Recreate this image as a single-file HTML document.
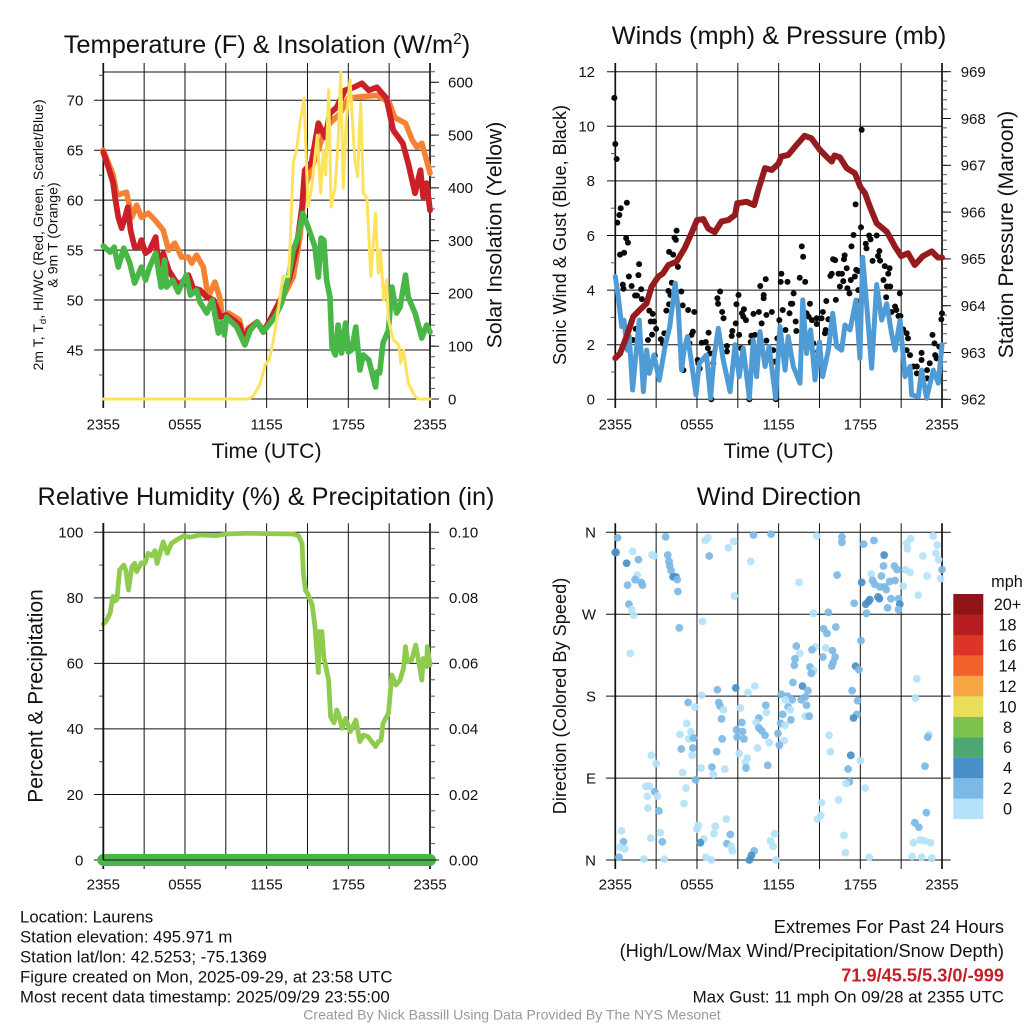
<!DOCTYPE html>
<html lang="en">
<head>
<meta charset="utf-8">
<title>Laurens Station Meteogram</title>
<style>
html,body{margin:0;padding:0;background:#fff;}
svg{display:block;font-family:"Liberation Sans",sans-serif;fill:#111;}
</style>
</head>
<body>
<svg id="chart" xmlns="http://www.w3.org/2000/svg" width="1024" height="1024" viewBox="0 0 1024 1024">
<rect x="0" y="0" width="1024" height="1024" fill="#fff"/>
<g id="p1"></g>
<g id="p2"></g>
<g id="p3"></g>
<g id="p4"></g>
<g id="legend"></g>

<text x="267" y="53" font-size="25.4" text-anchor="middle">Temperature (F) &amp; Insolation (W/m<tspan font-size="15.5" dy="-9">2</tspan><tspan dy="9">)</tspan></text>
<text x="779" y="44" font-size="25.3" text-anchor="middle">Winds (mph) &amp; Pressure (mb)</text>
<text x="266" y="505" font-size="25.3" text-anchor="middle">Relative Humidity (%) &amp; Precipitation (in)</text>
<text x="779" y="505" font-size="25.3" text-anchor="middle">Wind Direction</text>

<text x="266.6" y="458" font-size="21.2" text-anchor="middle">Time (UTC)</text>
<text x="778.6" y="458" font-size="21.2" text-anchor="middle">Time (UTC)</text>

<text transform="translate(43,235) rotate(-90)" font-size="14.1" text-anchor="middle">2m T, T<tspan font-size="9.5" dy="3">d</tspan><tspan dy="-3">, HI/WC (Red, Green, Scarlet/Blue)</tspan></text>
<text transform="translate(57.5,235) rotate(-90)" font-size="14.1" text-anchor="middle">&amp; 9m T (Orange)</text>
<text transform="translate(501.7,235) rotate(-90)" font-size="21.2" text-anchor="middle">Solar Insolation (Yellow)</text>
<text transform="translate(566,235) rotate(-90)" font-size="18.15" text-anchor="middle">Sonic Wind &amp; Gust (Blue, Black)</text>
<text transform="translate(1013,234.5) rotate(-90)" font-size="21.1" text-anchor="middle">Station Pressure (Maroon)</text>
<text transform="translate(42.7,696) rotate(-90)" font-size="21" text-anchor="middle">Percent &amp; Precipitation</text>
<text transform="translate(566,696) rotate(-90)" font-size="18.2" text-anchor="middle">Direction (Colored By Speed)</text>

<text x="1007" y="587" font-size="16.3" text-anchor="middle">mph</text>

<g font-size="16.75">
<text x="20" y="922.5">Location: Laurens</text>
<text x="20" y="942.7">Station elevation: 495.971 m</text>
<text x="20" y="962.7">Station lat/lon: 42.5253; -75.1369</text>
<text x="20" y="982.7">Figure created on Mon, 2025-09-29, at 23:58 UTC</text>
<text x="20" y="1002.7">Most recent data timestamp: 2025/09/29 23:55:00</text>
</g>
<g text-anchor="end">
<text x="1004" y="933" font-size="18.25">Extremes For Past 24 Hours</text>
<text x="1004" y="957" font-size="18.25">(High/Low/Max Wind/Precipitation/Snow Depth)</text>
<text x="1004" y="981.7" font-size="18.2" font-weight="bold" style="fill:#c4202a">71.9/45.5/5.3/0/-999</text>
<text x="1004" y="1002.7" font-size="16.9">Max Gust: 11 mph On 09/28 at 2355 UTC</text>
</g>
<text x="512" y="1019.5" font-size="14.05" text-anchor="middle" style="fill:#999">Created By Nick Bassill Using Data Provided By The NYS Mesonet</text>
</svg>

<script>
/* ---------- shared axis data ---------- */
const timeTicks = [0,3,6,9,12,15,18,21,24];
const timeLabelHours = [0,6,12,18,24];
const timeLabels = ["2355","0555","1155","1755","2355"];

/* ---------- temperature panel ---------- */
const tempTicks = [45,50,55,60,65,70];
const tempMinorTicks = [42.5,47.5,52.5,57.5,62.5,67.5,72.5];
const solarTicks = [0,100,200,300,400,500,600];
const redHours = [0,.37,.73,.86,1.1,1.35,1.6,1.8,2,2.3,2.6,2.8,3.1,3.4,3.85,4.1,4.4,4.8,5.25,5.6,6.25,6.6,7.1,7.6,8.1,8.6,9.05,9.55,10,10.4,10.65,11.3,11.75,12.25,13,13.7,14.2,14.6,14.8,15.3,15.8,16.3,16.65,17.15,17.75,18.4,19,19.5,20.1,20.8,21.3,22,22.4,22.9,23.3,23.5,23.75,24];
const redTemp = [64.8,63.3,61.7,60.3,58.3,57.2,58.3,59.3,57,55.3,55.3,56,54.7,55,56.3,52.7,54.7,53,52,51.5,52.5,51.2,51,50.3,50,48.3,48.5,48,47.5,45.7,47,47.8,46.8,48,50,52.3,55.3,59.3,63,63.8,67.7,66.3,68.7,69.3,71,71.3,71.7,71,71.3,70.2,67,65.7,63.7,60.7,63,60.3,61.7,59];
const orangeHours = [0,.73,1,1.7,2.1,2.45,2.8,3.3,3.8,4.4,4.8,5.25,5.75,6.25,6.5,6.85,7.35,7.7,8.2,8.6,8.7,9.2,10,10.35,10.65,11.3,11.75,12.5,13.2,13.95,14.45,14.8,15.7,16.2,16.65,17.4,18,18.5,20.1,21,21.4,22.2,22.7,23.05,23.4,23.75,24];
const orangeTemp = [65,62.5,60.5,60.8,58.3,59.5,58.3,58.7,58,57,55,55.7,54.3,54.3,53.7,54.5,53.3,50.3,51.8,50,48.5,48.7,48,46.3,47.2,47.8,47,48.3,50.3,52.3,56.3,61.3,64.7,66.7,67.7,68.7,70.2,70.3,70.5,69.8,68.3,67.7,66,65.3,65.7,64,62.7];
const greenHours = [0,.5,.8,1.1,1.5,1.95,2.3,2.8,3.1,3.4,3.85,4.25,4.5,4.65,5.1,5.5,6.1,6.4,6.85,7.1,7.6,8,8.45,8.7,8.9,9.05,9.8,10.4,10.8,11.3,11.75,12.6,13.1,13.6,13.95,14.3,14.65,15.05,15.55,15.8,16,16.2,16.4,16.65,16.8,17.05,17.25,17.5,17.8,18,18.25,18.55,18.85,19.1,19.5,20,20.1,20.3,20.55,20.95,21.2,21.55,21.8,22.2,22.4,22.9,23.4,23.75,24];
const greenDewPoint = [55.4,54.8,55.3,53.3,55.2,53.7,51.7,53.3,52,53.3,54.7,51.3,54,51.3,52,50.8,52.5,50.5,51,49.8,48.7,50,46.7,47.8,46.5,48.3,47.3,45.5,47,47.8,46.8,48.3,49.7,52.3,55,56.3,58.7,57.3,55.3,52.3,56.2,56,52,50.3,45.3,44.5,47.5,44.7,47.7,44.8,45,47.3,43,44.5,44,41.3,42.8,42.7,45.7,47,51.3,48.7,49.3,52.5,50.3,48.7,46.2,47.5,46.8];
const yellowHours = [0,10.65,11,11.5,11.9,12.2,12.5,12.85,13.2,13.6,13.7,13.95,14.2,14.45,14.75,15.04,15.3,15.72,15.97,16.16,16.34,16.56,16.73,17.02,17.24,17.44,17.63,17.83,18.12,18.49,18.69,18.75,18.91,19.1,19.37,19.65,20,20.2,20.35,20.6,20.8,20.95,21.3,21.7,21.85,22.05,22.4,22.9,23.15,24];
const yellowSolar = [0,0,5,27,65,75,112,169,232,232,277,447,472,523,570,364,400,500,390,472,424,586,364,400,480,620,400,520,605,449,421,470,561,390,381,232,352,239,283,188,226,150,112,103,68,93,30,5,0,0];

/* ---------- winds panel ---------- */
const windTicks = [0,2,4,6,8,10,12];
const windMinorTicks = [1,3,5,7,9,11];
const pressureTicks = [962,963,964,965,966,967,968,969];
const blueHours = [0,.22,.47,.64,.88,1.03,1.27,1.5,1.76,2.06,2.3,2.5,2.84,3.23,3.65,4,4.4,4.63,4.87,5.05,5.3,5.5,5.93,6.17,6.7,7,7.25,7.57,7.93,8.43,8.8,9.1,9.4,9.85,10.13,10.38,10.63,11,11.3,11.78,12.1,12.47,12.7,13.08,13.57,13.77,14.05,14.35,14.67,15,15.23,15.65,15.97,16.26,16.63,16.87,17.24,17.68,17.97,18.17,18.5,18.83,19.2,19.57,19.94,20.3,20.55,20.92,21.28,21.65,21.77,22.26,22.5,22.87,23.36,23.73,24];
const blueWind = [4.5,3.76,2.66,2.9,1.8,2.3,.34,1.56,2.9,.28,1.8,.95,1.62,.7,1.93,2.66,4.25,3.27,1.07,1.8,2.3,1.68,.16,1.32,1.62,.04,1.56,2.6,1.44,.28,2,.83,1.87,.04,2.17,.83,2.48,1.2,1.93,.04,2.66,1.07,2.3,1.2,.59,3.64,1.68,2.54,.71,2.1,.83,1.8,3.15,1.93,1.8,2.72,2.54,3.64,1.5,5.2,3.27,1.14,4.2,2.9,3.5,2.4,1.8,2.9,.83,1.2,.16,.1,1.07,.04,1.07,.59,2];
const gustHours = [-.07,0,.1,.15,.3,.4,.85,.35,.65,.8,.93,1,.55,.6,1.2,1.7,1.75,1.45,1.6,1.9,1.95,2.5,2.75,2.6,2.85,3,2.7,2.4,3.35,3.5,3.6,1.5,1.3,2.9,3.75,3.9,4.05,3.95,4.15,3.95,4.25,4.35,4.45,4.5,4.6,4.85,4.95,5.35,5.8,5.7,5.6,5.45,5,6.05,6.1,6.2,6.35,6.65,6.85,6.8,6.95,7.15,7.2,7.5,7.7,7.55,7.85,7.95,8.2,8.2,8.6,8.55,8.85,9.05,8.9,9.1,9.25,9.3,9.45,9.4,9.6,10.15,10,10.25,9.95,10.55,10.65,11.05,10.9,10.9,10.75,11.1,11.5,11.1,11.6,11.7,11.9,12.05,12.15,12.2,12.3,12.65,12.8,13,12.9,13.1,13.25,13.3,12.5,13.55,13.95,13.7,13.8,14.05,14.3,14.2,14.45,14.8,14.8,15.15,14.55,14.9,15.25,15.4,15.45,15.5,15.65,15.8,15.9,16,16.15,16.2,16.4,16.65,16.5,16.75,16.8,16.85,17,17.05,17.2,17.3,17.35,17.5,17.6,17.65,17.7,17.85,17.85,18.05,18.1,18,18.4,18.45,18.65,18.75,18.9,19.2,19.3,19.4,19.45,19.7,19.9,19.8,20.05,20.15,19.95,20.2,20.3,20.55,20.65,20.8,20.9,20.95,21.15,21.4,21.5,21.4,21.65,21.9,22.15,22.15,22.5,22.5,22.9,22.9,23.1,23.3,23.45,23.5,23.6,23.95,24,23.8,7.05,9.85,11.8];
const gustSpeed = [11.04,9.35,8.8,6.47,6.75,7,7.2,5.3,5.37,5.9,5.74,4.5,4.2,4.05,4.15,4.55,4.95,3.8,3.8,4.03,3.67,3.25,3.13,2.85,2.85,2.58,2.37,2.17,2.2,2.05,2.42,2.58,2.17,1.6,3.25,3.97,3.82,3.48,4.27,5.4,5.3,5.92,5.84,6.18,4.85,3.95,3.44,3.27,3.2,2.48,2.36,2.05,1.07,1.44,1.32,1.13,2.07,2.1,2.44,1.87,1.68,1.68,1.32,3.7,3.95,3.5,3.2,2.97,1.95,1.75,2.5,2.32,2.78,3.82,3.48,2.36,1.87,3.15,3.3,3.03,2.9,3.13,2.33,2.36,2.1,3.2,4.15,4.4,3.7,3.82,2.78,3.09,3.2,2.15,1.8,1.38,2.23,2.9,4.3,4.6,3.27,4.3,3.15,3.5,3.5,3.88,2.85,2.5,2.54,4.45,4.3,5.6,5.22,3.15,3.5,3.03,2.9,2.97,2.76,2.97,2.05,1.75,3.2,2.42,2.54,3.6,2.93,4.52,4.6,5.13,5.1,3.64,4.6,4.6,4.13,4.33,5.13,5.27,4.8,4.07,3.88,4.37,5.6,6.02,4.5,7.14,4.74,4.7,4,6.3,9.87,3.6,5.7,5.53,6,5.86,5.07,6,5.25,5.43,5.08,4.37,3.74,4.88,4.6,4.8,4.13,4.13,3.2,3.4,3.27,3.05,3.88,3.05,2.56,2.42,2.23,1.8,1.62,1.2,.95,1.2,1.7,1.44,1.07,.77,1.32,2.36,2.05,1.62,1.5,2.93,3.15,1.93,0,0,0];
const maroonHours = [0,.35,.83,1.32,1.8,2.3,2.67,3.16,3.5,3.9,4.5,5.1,5.6,6,6.47,6.83,7.3,7.8,8.3,8.8,8.96,9.65,10.2,10.5,11,11.5,12,12.2,12.7,13.3,13.9,14.4,15,15.5,15.9,16.1,16.5,17,17.6,18,18.35,18.7,19.2,19.95,20.55,21,21.5,22,22.6,23.25,23.7,24];
const maroonPressure = [962.88,962.98,963.34,963.77,963.91,964.05,964.41,964.62,964.69,964.87,964.94,965.23,965.55,965.83,965.85,965.65,965.57,965.8,965.83,965.94,966.19,966.22,966.15,966.47,966.94,966.9,967.04,967.19,967.22,967.43,967.63,967.58,967.34,967.19,967.08,967.21,967.17,966.94,966.83,966.54,966.4,966.12,965.76,965.58,965.26,965.06,965.12,964.87,965.06,965.16,965.03,965.03];

/* ---------- humidity panel ---------- */
const humidityTicks = [0,20,40,60,80,100];
const humidityMinorTicks = [10,30,50,70,90];
const precipTicks = [0,0.02,0.04,0.06,0.08,0.1];
const precipTickLabels = ["0.00","0.02","0.04","0.06","0.08","0.10"];
const humidityHours = [0,.25,.5,.7,.85,1,1.2,1.5,1.65,1.85,2.1,2.3,2.45,2.8,3.05,3.3,3.55,3.8,3.95,4.4,4.7,5,5.4,5.9,6.35,7.1,8.3,9.05,10.65,12,13.95,14.35,14.6,14.7,14.85,15.05,15.35,15.55,15.8,15.85,16.05,16.2,16.55,16.7,16.95,17.15,17.3,17.55,17.8,18.15,18.55,18.85,19.1,19.45,20,20.2,20.4,20.55,20.95,21.2,21.5,21.8,22.05,22.2,22.35,22.65,22.95,23.15,23.4,23.5,23.75,23.8,24];
const humidityValues = [72,73.2,75.3,80.4,79,79.5,88.5,90,88.5,82.4,89.5,90.5,88,90.7,90.5,93.6,92.8,94.4,90.5,97.1,93.6,96.6,97.7,98.9,98.5,99.2,99,99.5,99.7,99.6,99.5,98.9,96.6,87.5,82.4,80.9,77.8,71.2,57.2,69.7,69.7,62,54.9,43.7,41.9,45.8,44.2,40.2,43.2,39.2,42.7,36.1,38.1,37.6,34.6,36.1,36.6,41.7,44.8,56.5,53.4,54.9,58.5,65.1,60.5,61,65.6,61,54.9,61.5,59,65.1,59.5];
const precipHours = [0,24];
const precipValues = [0,0];

/* ---------- wind direction panel ---------- */
const directionTicks = [0,90,180,270,360];
const directionLabels = ["N","E","S","W","N"];
const dirHours = [.17,0,.05,1.27,.83,1.7,1.6,1.45,1.9,2,.9,1,1.2,1.35,1.1,2.7,2.85,3.7,3.85,3.95,4,4.1,4.25,4.45,4.55,4.6,4.7,6.6,6.8,6.9,8.3,8.7,10.15,11.45,9.95,8.75,6.4,13.5,14.8,16.65,16.65,16.3,18.25,19,19.75,19.7,20.5,20.7,21.3,21.65,21.4,21.45,21.7,22.6,23.35,23.65,23.55,23.75,24,23.9,22.9,22.25,18.8,18.9,19.05,19.55,19.45,19.8,20.15,20.55,21.15,19.9,20.25,20.8,20.9,20.8,20,19.3,19.4,18.7,18.6,18.4,18.1,17.55,18.45,15.65,14.55,16.2,15.3,15.55,18.05,13.3,14.7,15.45,14.45,13.55,15.95,16.15,15.25,13.2,13.15,14.3,16,15.9,17.65,17.9,14.6,14.4,13.05,13.75,14.15,12.2,12.65,13,12.5,13.65,13.95,17.4,17.8,22.15,22.05,10.25,9.75,8.85,7.5,6.35,5.35,5.85,7.6,7.7,7.95,9.2,11.05,11.1,12.7,12.85,12.3,14.05,13.95,14.25,12.9,17.75,17.5,7.8,10.55,9.3,10.35,12.15,12.45,5.25,8.9,9.35,10.55,10.75,11,11.95,5.55,4.75,5.4,5.75,8.95,9.45,7.85,12.4,11.3,12.05,15.7,23.05,22.95,4.85,5.7,5.65,2.65,10.45,7.45,9.1,9.7,9.55,9.6,11.2,15.8,17.3,18,3,6.3,7.1,8.05,4.95,7.2,5.9,22.75,17.1,17.2,16.95,18.35,2.25,2.5,2.9,3.1,2.35,5.2,5.05,2.4,3.2,15.15,16.4,15.1,14.85,22.85,8.15,.45,6.1,6,7.35,3.3,2.6,7.25,8.45,11.7,16.8,22,22.3,.6,3.45,.35,.7,6.5,6.25,8.2,8.5,8.6,11.4,11.6,21.9,22.4,22.7,23.15,10.2,10,16.9,.27,2.1,3.6,6.65,7.05,9.85,11.8,18.65,21.8,22.5,23.25];
const dirDegrees = [354,338,338,339,326,330,313,308,305,302,302,281,275,269,227,335,334,355,335,328,323,318,311,311,308,295,255,351,354,334,343,350,357,358,328,290,262,305,356,349,355,313,347,351,335,323,323,319,319,316,348,342,353,334,356,346,337,330,319,309,312,291,314,307,303,312,300,300,306,307,301,297,287,287,281,275,277,289,287,286,284,281,305,282,271,272,271,256,254,249,241,235,234,233,231,227,230,223,223,221,214,212,217,213,213,209,208,205,195,191,186,182,180,176,176,176,179,186,175,199,178,191,184,189,187,181,173,168,173,169,165,167,170,162,168,165,160,170,158,158,154,160,156,155,156,151,151,150,148,150,143,141,145,142,137,139,141,138,133,134,135,133,133,131,129,126,137,138,135,122,123,115,115,123,119,117,112,107,101,104,119,115,109,106,101,102,100,96,94,88,103,100,86,84,79,81,81,75,70,70,79,62,57,54,63,66,49,45,52,45,32,38,34,37,30,24,29,28,29,27,41,36,20,20,14,12,23,19,18,15,10,21,15,19,22,21,19,10,5,8,3,1,1,3,0,0,0,3,4,3,2];
const dirSpeed = [2.5,4.5,4.5,1,4.5,2.5,1,2.5,2.5,2.5,2.5,2.5,1,1,1,1,1,2.5,2.5,2.5,2.5,2.5,4.5,4.5,2.5,2.5,2.5,1,1,2.5,1,1,2.5,2.5,1,1,1,1,1,2.5,2.5,2.5,2.5,2.5,4.5,2.5,2.5,2.5,1,1,1,1,1,1,1,1,1,1,2.5,1,1,1,1,2.5,2.5,2.5,2.5,2.5,2.5,2.5,1,2.5,2.5,2.5,4.5,2.5,2.5,4.5,4.5,4.5,4.5,4.5,4.5,2.5,2.5,2.5,1,2.5,2.5,2.5,2.5,2.5,1,1,2.5,1,2.5,2.5,2.5,2.5,2.5,2.5,2.5,2.5,4.5,2.5,1,2.5,2.5,4.5,2.5,2.5,2.5,2.5,1,2.5,2.5,2.5,2.5,1,1,1,1,4.5,2.5,1,2.5,1,2.5,2.5,1,1,2.5,1,2.5,1,2.5,2.5,1,2.5,2.5,2.5,4.5,2.5,2.5,2.5,1,2.5,1,1,2.5,2.5,2.5,2.5,2.5,2.5,1,1,1,2.5,2.5,2.5,2.5,1,1,2.5,1,1,2.5,2.5,2.5,1,1,1,2.5,1,1,1,2.5,2.5,1,4.5,1,1,1,2.5,1,1,1,2.5,2.5,2.5,2.5,1,1,1,1,2.5,1,1,1,1,1,2.5,1,1,1,1,2.5,1,1,1,1,1,1,1,1,2.5,1,1,2.5,2.5,2.5,2.5,1,1,1,4.5,2.5,1,1,1,1,1,1,1,1,2.5,4.5,1,2.5,1,1,1,1,4.5,1,1,1];

/* ---------- colour bar ---------- */
const speedBinEdges = [2,4,6,8,10,12,14,16,18,20];
const speedBinLabels = ["0","2","4","6","8","10","12","14","16","18","20+"];
const speedBinColors = ["#b3e2fa","#7db9e5","#4a90c8","#4ca772","#7cc24b","#e7e057","#f7a643","#f26129","#dc3428","#b71c23","#8f1417"];

/* ---------- drawing ---------- */
const NS = "http://www.w3.org/2000/svg";
const GRID = "#111";
const MINOR = "#555";
function mk(tag, parent, attrs, text) {
  const e = document.createElementNS(NS, tag);
  for (const k in attrs) e.setAttribute(k, attrs[k]);
  if (text !== undefined) e.textContent = text;
  parent.appendChild(e);
  return e;
}
function linear(d0, d1, r0, r1) {
  return v => r0 + (v - d0) * (r1 - r0) / (d1 - d0);
}
function range(a, b, step) {
  const out = [];
  const n = Math.round((b - a) / step);
  for (let i = 0; i <= n; i++) out.push(a + i * step);
  return out;
}
function drawTime(g, sx, top, bottom, labelY) {
  timeTicks.forEach(h => {
    const edge = h === 0 || h === 24;
    const v = mk('line', g, {x1: sx(h), x2: sx(h), y1: top - 9, y2: bottom + 9, stroke: GRID, 'stroke-width': edge ? 1.7 : 1});
    
    
  });
  timeLabelHours.forEach((h, i) => {
    const t = mk('text', g, {x: sx(h), y: labelY, 'font-size': 15, 'text-anchor': 'middle'}, timeLabels[i]);
    
    
  });
}
function drawHGrid(g, values, sy, x1, x2) {
  values.forEach(v => {
    const l = mk('line', g, {x1: x1, x2: x2, y1: sy(v), y2: sy(v), stroke: GRID, 'stroke-width': 1});
    
    
  });
}
function drawTicks(g, values, sy, x1, x2, color) {
  values.forEach(v => {
    const l = mk('line', g, {x1: x1, x2: x2, y1: sy(v), y2: sy(v), stroke: color, 'stroke-width': 1});
    
    
  });
}
function drawLabels(g, values, labels, sy, x, anchor) {
  values.forEach((v, i) => {
    const t = mk('text', g, {x: x, y: sy(v) + 5.3, 'font-size': 15, 'text-anchor': anchor}, labels[i]);
    
    
  });
}
function drawLine(g, hours, values, sx, sy, color, width) {
  const pts = hours.map((h, i) => sx(h).toFixed(2) + ',' + sy(values[i]).toFixed(2)).join(' ');
  return mk('polyline', g, {points: pts, fill: 'none', stroke: color, 'stroke-width': width, 'stroke-linejoin': 'round', 'stroke-linecap': 'round'});
}

/* Panel 1: temperature and insolation */
(function () {
  const g = document.getElementById('p1');
  const sx = linear(0, 24, 103.3, 430);
  const sy = linear(45, 70, 350, 100.3);
  const sr = linear(0, 600, 399, 82.3);
  drawTime(g, sx, 72, 399, 429.3);
  drawHGrid(g, tempTicks, sy, 94, 430);
  drawHGrid(g, [72, 399], v => v, 103.3, 430);
  drawTicks(g, tempMinorTicks, sy, 99, 103.3, MINOR);
  drawTicks(g, range(0, 620, 20), sr, 430, 435, MINOR);
  drawTicks(g, solarTicks, sr, 430, 439, GRID);
  drawLabels(g, tempTicks, tempTicks.map(String), sy, 83.3, 'end');
  drawLabels(g, solarTicks, solarTicks.map(String), sr, 448, 'start');
  const orange = drawLine(g, orangeHours, orangeTemp, sx, sy, '#f58233', 5.6);
  
  
  const red = drawLine(g, redHours, redTemp, sx, sy, '#cb2027', 5.8);
  
  
  const green = drawLine(g, greenHours, greenDewPoint, sx, sy, '#49b648', 5.6);
  
  
  const yellow = drawLine(g, yellowHours, yellowSolar, sx, sr, '#fde35c', 3);
  
  
})();

/* Panel 2: winds and pressure */
(function () {
  const g = document.getElementById('p2');
  const sx = linear(0, 24, 615.3, 942);
  const sy = linear(0, 12, 399.3, 71.7);
  const sp = linear(962, 969, 399.3, 71.7);
  drawTime(g, sx, 72, 399, 429.3);
  drawHGrid(g, windTicks, sy, 607, 942);
  drawTicks(g, windMinorTicks, sy, 611, 615.3, MINOR);
  drawTicks(g, range(962, 969, 0.2), sp, 942, 947, MINOR);
  drawTicks(g, pressureTicks, sp, 942, 951, GRID);
  drawLabels(g, windTicks, windTicks.map(String), sy, 595, 'end');
  drawLabels(g, pressureTicks, pressureTicks.map(String), sp, 960.7, 'start');
  gustHours.forEach((h, i) => {
    const c = mk('circle', g, {cx: sx(h).toFixed(2), cy: sy(gustSpeed[i]).toFixed(2), r: 3, fill: '#0a0a0a'});
    
    
  });
  const blue = drawLine(g, blueHours, blueWind, sx, sy, '#4f9bd5', 5);
  
  
  const maroon = drawLine(g, maroonHours, maroonPressure, sx, sp, '#951b1e', 6);
  
  
})();

/* Panel 3: humidity and precipitation */
(function () {
  const g = document.getElementById('p3');
  const sx = linear(0, 24, 103.3, 430);
  const sy = linear(0, 100, 860, 532.3);
  const sp = linear(0, 0.1, 860, 532.3);
  drawTime(g, sx, 532.3, 860, 889.3);
  drawHGrid(g, humidityTicks, sy, 94, 439);
  drawTicks(g, humidityMinorTicks, sy, 99, 103.3, MINOR);
  drawTicks(g, range(0, 0.1, 0.005), sp, 430, 435, MINOR);
  drawLabels(g, humidityTicks, humidityTicks.map(String), sy, 83.3, 'end');
  drawLabels(g, precipTicks, precipTickLabels, sp, 449, 'start');
  const rh = drawLine(g, humidityHours, humidityValues, sx, sy, '#8fcb4e', 4.8);
  
  
  const precip = drawLine(g, precipHours, precipValues, sx, sp, '#4ab649', 12);
  
  
  const base = mk('line', g, {x1: 103.3, x2: 439, y1: sy(0), y2: sy(0), stroke: GRID, 'stroke-width': 1});
  
  
  const left = mk('line', g, {x1: 103.3, x2: 103.3, y1: 523, y2: 860, stroke: GRID, 'stroke-width': 1.7});
  
  
})();

/* Panel 4: wind direction */
(function () {
  const g = document.getElementById('p4');
  const sx = linear(0, 24, 615.3, 942);
  const sy = linear(0, 360, 860, 532.3);
  drawTime(g, sx, 532.3, 860, 889.3);
  drawHGrid(g, directionTicks, sy, 606, 950.7);
  drawLabels(g, directionTicks, directionLabels, sy, 596, 'end');
  function binColor(speed) {
    let bin = 0;
    speedBinEdges.forEach(edge => { if (speed >= edge) bin++; });
    return speedBinColors[bin];
  }
  dirHours.forEach((h, i) => {
    const c = mk('circle', g, {cx: sx(h).toFixed(2), cy: sy(dirDegrees[i]).toFixed(2), r: 3.9, fill: binColor(dirSpeed[i]), 'fill-opacity': 0.92});
    
    
  });
  const lg = document.getElementById('legend');
  const boxTop = 594, boxH = 225 / speedBinColors.length;
  speedBinColors.forEach((color, i) => {
    const y = boxTop + (speedBinColors.length - 1 - i) * boxH;
    const r = mk('rect', lg, {x: 953.3, y: y, width: 30, height: boxH + 0.1, fill: color});
    
    
    const t = mk('text', lg, {x: 1007.5, y: y + boxH / 2 + 5.8, 'font-size': 16.3, 'text-anchor': 'middle'}, speedBinLabels[i]);
    
    
  });
})();
</script>
</body>
</html>
